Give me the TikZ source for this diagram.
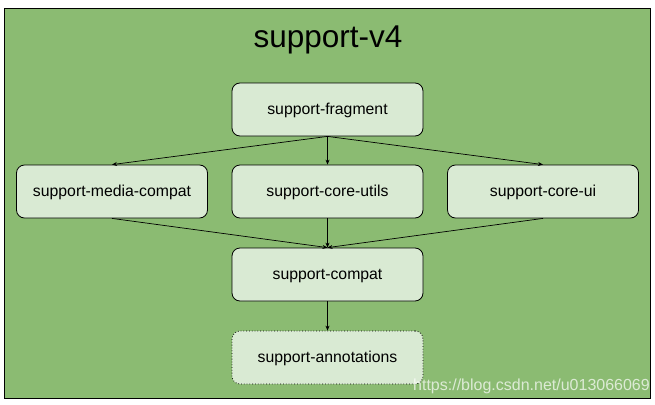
\documentclass[tikz,border=0pt]{standalone}
\usepackage{fontspec}
\setmainfont{Liberation Sans}
\usetikzlibrary{arrows.meta}
\definecolor{bggreen}{HTML}{8BBB72}
\definecolor{boxgreen}{HTML}{D9EAD3}
\begin{document}
\begin{tikzpicture}[x=1pt,y=-1pt,
  modbox/.style={draw=black,line width=0.8pt,fill=boxgreen,rounded corners=8pt,
    minimum width=191pt,minimum height=53pt,inner sep=0pt,
    text height=9.8pt,text depth=0pt,
    font=\fontsize{15.8pt}{18pt}\selectfont},
  optbox/.style={modbox,dotted},
  dep/.style={line width=0.7pt,-{Stealth[length=5pt,width=4pt]}}]
\useasboundingbox (0,0) rectangle (655,404);
\node[draw=black,line width=0.8pt,fill=bggreen,minimum width=646pt,minimum height=390pt,inner sep=0pt,anchor=north west] (frame) at (4,8) {};
\node[font=\fontsize{31.5pt}{36pt}\selectfont] (title) at (328,40) {support-v4};
\node[modbox] (frag) at (327.5,109.5) {support-fragment};
\node[modbox] (media) at (112,191.5) {support-media-compat};
\node[modbox] (utils) at (327.5,191.5) {support-core-utils};
\node[modbox] (ui) at (543,191.5) {support-core-ui};
\node[modbox] (compat) at (327.5,274.5) {support-compat};
\node[optbox] (annot) at (327.5,357.5) {support-annotations};
\draw[dep] (frag.south) -- (media.north);
\draw[dep] (frag.south) -- (utils.north);
\draw[dep] (frag.south) -- (ui.north);
\draw[dep] (media.south) -- (compat.north);
\draw[dep] (utils.south) -- (compat.north);
\draw[dep] (ui.south) -- (compat.north);
\draw[dep] (compat.south) -- (annot.north);
\node[anchor=east,text=white,opacity=0.7,font=\fontsize{16pt}{18pt}\selectfont,inner sep=0pt] (mark) at (650,386) {https://blog.csdn.net/u013066069};
\end{tikzpicture}
\end{document}
